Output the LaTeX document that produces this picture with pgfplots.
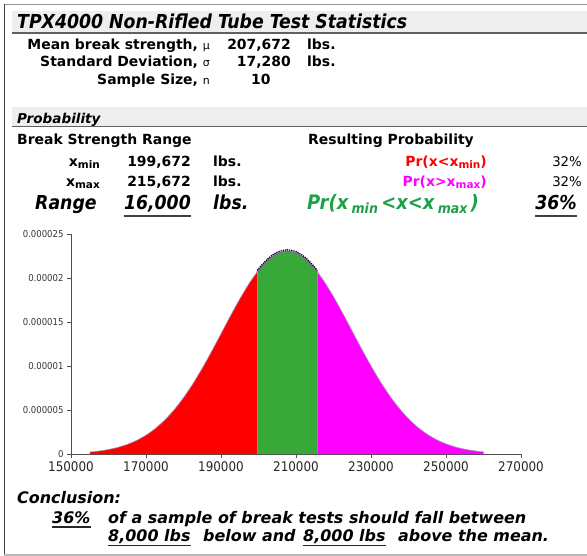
\documentclass[border=0pt]{standalone}
\usepackage{pgfplots}
\pgfplotsset{compat=1.18}
\usepackage{fontspec}
\setmainfont{DejaVu Sans}
\newfontfamily\cond{DejaVu Sans Condensed}
\definecolor{bandgray}{RGB}{238,238,238}
\definecolor{linegray}{RGB}{96,96,96}
\definecolor{framegray}{RGB}{150,150,150}
\definecolor{fillgreen}{RGB}{56,168,56}
\definecolor{txtgreen}{RGB}{30,160,70}
\definecolor{curvepurple}{RGB}{128,100,170}
\definecolor{axisgray}{RGB}{80,80,80}
\definecolor{mag}{RGB}{255,0,255}
\definecolor{rd}{RGB}{255,0,0}
\newcommand{\fs}[1]{\fontsize{#1}{#1}\selectfont}
\newcommand{\sub}[1]{\raisebox{-0.3ex}{\fs{10.5}#1}}
\tikzset{t/.style={inner sep=0pt, font=\bfseries\fs{14}}}
\begin{document}
\begin{tikzpicture}[x=1bp,y=-1bp]
\path[use as bounding box] (0,0) rectangle (587,556);
% frame
\draw[framegray, line width=1.2bp] (4,4.7) -- (587,4.7);
\draw[black!75, line width=1.2bp] (4.7,4) -- (4.7,556);
\draw[framegray!70, line width=1.2bp] (4,555) -- (587,555);
% bands
\fill[bandgray] (11.7,10.7) rectangle (587,32.7);
\draw[linegray, line width=2bp] (11.7,33) -- (587,33);
\fill[bandgray] (11.7,107) rectangle (587,126);
\draw[linegray, line width=1.5bp] (11.7,126.7) -- (587,126.7);

\begin{axis}[at={(71bp,-454bp)}, anchor=south west,
  width=450bp, height=219.7bp, scale only axis,
  xmin=150000, xmax=270000, ymin=0, ymax=0.000025,
  axis lines*=left,
  axis line style={axisgray, line width=0.8bp, -},
  scaled x ticks=false, scaled y ticks=false,
  xtick={150000,170000,190000,210000,230000,250000,270000},
  xticklabels={\mbox{150000},\mbox{170000},\mbox{190000},\mbox{210000},\mbox{230000},\mbox{250000},\mbox{270000}},
  ytick={0,0.000005,0.00001,0.000015,0.00002,0.000025},
  yticklabels={\mbox{0},\mbox{0.000005},\mbox{0.00001},\mbox{0.000015},\mbox{0.00002},\mbox{0.000025}},
  tick align=outside, major tick length=4bp,
  tick style={axisgray, line width=0.8bp},
  xticklabel style={font=\cond\fs{13.33}, text=black!85},
  yticklabel style={font=\cond\fs{9.5}, text=black!80},
  clip=false]
\addplot[draw=none, fill=rd] coordinates {
(155000,2.218e-7) (157500,3.410e-7) (160000,5.136e-7) (162500,7.577e-7) (165000,1.0944e-6) (167500,1.5479e-6) (170000,2.1445e-6) (172500,2.9089e-6) (175000,3.8646e-6) (177500,5.0272e-6) (180000,6.4047e-6) (182500,7.990e-6) (185000,9.763e-6) (187500,1.1680e-5) (190000,1.3685e-5) (192500,1.5703e-5) (195000,1.7643e-5) (197500,1.9414e-5) (199672,2.0741e-5)
} \closedcycle;
\addplot[draw=none, fill=fillgreen] coordinates {
(199672,2.0741e-5) (200000,2.0920e-5) (202500,2.2076e-5) (205000,2.2813e-5) (207500,2.3086e-5) (207672,2.3087e-5) (210000,2.2879e-5) (212500,2.2203e-5) (215000,2.1102e-5) (215672,2.0741e-5)
} \closedcycle;
\addplot[draw=none, fill=mag] coordinates {
(215672,2.0741e-5) (217500,1.9639e-5) (220000,1.7900e-5) (222500,1.5976e-5) (225000,1.3964e-5) (227500,1.1953e-5) (230000,1.0019e-5) (232500,8.2245e-6) (235000,6.6103e-6) (237500,5.2040e-6) (240000,4.0118e-6) (242500,3.0284e-6) (245000,2.2385e-6) (247500,1.6207e-6) (250000,1.1493e-6) (252500,7.981e-7) (255000,5.426e-7) (257500,3.613e-7) (260000,2.355e-7)
} \closedcycle;
\addplot[curvepurple!70, line width=0.6bp, smooth] coordinates {
(155000,2.218e-7) (157500,3.410e-7) (160000,5.136e-7) (162500,7.577e-7) (165000,1.0944e-6) (167500,1.5479e-6) (170000,2.1445e-6) (172500,2.9089e-6) (175000,3.8646e-6) (177500,5.0272e-6) (180000,6.4047e-6) (182500,7.990e-6) (185000,9.763e-6) (187500,1.1680e-5) (190000,1.3685e-5) (192500,1.5703e-5) (195000,1.7643e-5) (197500,1.9414e-5) (199672,2.0741e-5) (200000,2.0920e-5) (202500,2.2076e-5) (205000,2.2813e-5) (207500,2.3086e-5) (207672,2.3087e-5) (210000,2.2879e-5) (212500,2.2203e-5) (215000,2.1102e-5) (215672,2.0741e-5) (217500,1.9639e-5) (220000,1.7900e-5) (222500,1.5976e-5) (225000,1.3964e-5) (227500,1.1953e-5) (230000,1.0019e-5) (232500,8.2245e-6) (235000,6.6103e-6) (237500,5.2040e-6) (240000,4.0118e-6) (242500,3.0284e-6) (245000,2.2385e-6) (247500,1.6207e-6) (250000,1.1493e-6) (252500,7.981e-7) (255000,5.426e-7) (257500,3.613e-7) (260000,2.355e-7)
};
\addplot[curvepurple, line width=1.3bp, smooth] coordinates {
(199672,2.0741e-5) (200000,2.0920e-5) (202500,2.2076e-5) (205000,2.2813e-5) (207500,2.3086e-5) (207672,2.3087e-5) (210000,2.2879e-5) (212500,2.2203e-5) (215000,2.1102e-5) (215672,2.0741e-5)
};
\addplot[black, densely dotted, line width=1.2bp, smooth, yshift=1.4bp] coordinates {
(199672,2.0741e-5) (200000,2.0920e-5) (202500,2.2076e-5) (205000,2.2813e-5) (207500,2.3086e-5) (207672,2.3087e-5) (210000,2.2879e-5) (212500,2.2203e-5) (215000,2.1102e-5) (215672,2.0741e-5)
};
\end{axis}

% title
\node[t, anchor=base west] at (17,28.3) {\cond\fs{19.3}\itshape TPX4000 Non-Rifled Tube Test Statistics};
% stats
\node[t, anchor=base east] at (210,49.3) {Mean break strength, {\mdseries\fs{11}μ}};
\node[t, anchor=base east] at (291,49.3) {207,672};
\node[t, anchor=base west] at (307,49.3) {lbs.};
\node[t, anchor=base east] at (210,66.7) {Standard Deviation, {\mdseries\fs{11}σ}};
\node[t, anchor=base east] at (291,66.7) {17,280};
\node[t, anchor=base west] at (307,66.7) {lbs.};
\node[t, anchor=base east] at (210,85) {Sample Size, {\mdseries\fs{11}n}};
\node[t, anchor=base west] at (251,85) {10};
% probability
\node[t, anchor=base west] at (17,123.3) {\fs{13.6}\itshape Probability};
\node[t, anchor=base west] at (17,145) {Break Strength Range};
\node[t, anchor=base west] at (308,145) {Resulting Probability};
\node[t, anchor=base east] at (100,166.7) {x\sub{min}};
\node[t, anchor=base east] at (191,166.7) {199,672};
\node[t, anchor=base west] at (213,166.7) {lbs.};
\node[t, anchor=base east, text=rd] at (487,166.7) {Pr(x<x\sub{min})};
\node[inner sep=0pt, font=\fs{13.33}, anchor=base east] at (582,166.7) {32\%};
\node[t, anchor=base east] at (100,186.7) {x\sub{max}};
\node[t, anchor=base east] at (191,186.7) {215,672};
\node[t, anchor=base west] at (213,186.7) {lbs.};
\node[t, anchor=base east, text=mag] at (487,186.7) {Pr(x>x\sub{max})};
\node[inner sep=0pt, font=\fs{13.33}, anchor=base east] at (582,186.7) {32\%};
\node[t, anchor=base west] at (35,210) {\cond\fs{19.3}\itshape Range};
\node[t, anchor=base east] (u1) at (191,210) {\cond\fs{19.3}\itshape 16,000};
\node[t, anchor=base west] at (213,210) {\cond\fs{19.3}\itshape lbs.};
\node[t, anchor=base west, text=txtgreen] at (307,210) {\cond\fs{20}\itshape Pr(x\,\raisebox{-0.35ex}{\fs{14}min}\,<x<x\,\raisebox{-0.35ex}{\fs{14}max}\,)};
\node[t, anchor=base east] (u2) at (577,210) {\cond\fs{19.3}\itshape 36\%};
\draw[black!75, line width=1.6bp] ([yshift=-6bp]u1.base west) -- ([yshift=-6bp]u1.base east);
\draw[black!75, line width=1.6bp] ([yshift=-6bp]u2.base west) -- ([yshift=-6bp]u2.base east);
% conclusion
\node[t, anchor=base west] at (17,503) {\fs{16}\itshape Conclusion:};
\node[t, anchor=base west] (c1) at (52,523) {\fs{16}\itshape 36\%};
\node[t, anchor=base west] at (108,523) {\fs{16}\itshape of a sample of break tests should fall between};
\node[t, anchor=base west] (c2) at (108,541.7) {\fs{16}\itshape 8,000 lbs};
\node[t, anchor=base west] at (203,541.7) {\fs{16}\itshape below and};
\node[t, anchor=base west] (c3) at (303,541.7) {\fs{16}\itshape 8,000 lbs};
\node[t, anchor=base west] at (398,541.7) {\fs{16}\itshape above the mean.};
\draw[black!85, line width=1.4bp] ([yshift=-4bp]c1.base west) -- ([yshift=-4bp]c1.base east);
\draw[black!85, line width=1.4bp] ([yshift=-4bp]c2.base west) -- ([yshift=-4bp]c2.base east);
\draw[black!85, line width=1.4bp] ([yshift=-4bp]c3.base west) -- ([yshift=-4bp]c3.base east);
\end{tikzpicture}
\end{document}
